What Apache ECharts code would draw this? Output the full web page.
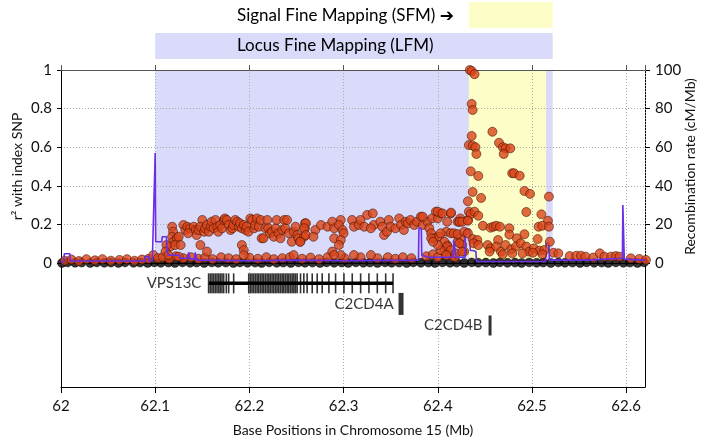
<!DOCTYPE html>
<html><head><meta charset="utf-8">
<script src="https://cdn.jsdelivr.net/npm/echarts@6/dist/echarts.min.js"></script>
<style>html,body{margin:0;padding:0;background:#fff}#c{width:704px;height:441px}</style>
</head><body><div id="c"></div>
<script>
// ---------------- DATA ----------------
const xRange = [62.0, 62.62];
const lfmRange = [62.1, 62.522];
const sfmRange = [62.433, 62.515];
const headerLabels = ['Signal Fine Mapping (SFM) \u2794', 'Locus Fine Mapping (LFM)'];

// r2 ~ 0 SNPs (black)
const nullSNPs = [
[62.001,0.000],[62.007,0.003],[62.015,0.001],[62.022,0.002],[62.031,0.000],[62.038,0.003],[62.046,0.001],[62.053,0.002],
[62.061,0.000],[62.068,0.003],[62.077,0.001],[62.084,0.002],[62.092,0.000],[62.099,0.003],[62.106,0.001],[62.114,0.002],
[62.121,0.000],[62.129,0.003],[62.137,0.001],[62.144,0.002],[62.152,0.000],[62.160,0.003],[62.167,0.001],[62.175,0.002],
[62.183,0.000],[62.190,0.003],[62.198,0.001],[62.206,0.002],[62.213,0.000],[62.221,0.003],[62.229,0.001],[62.236,0.002],
[62.244,0.000],[62.252,0.003],[62.259,0.001],[62.267,0.002],[62.275,0.000],[62.282,0.003],[62.290,0.001],[62.298,0.002],
[62.305,0.000],[62.313,0.003],[62.321,0.001],[62.328,0.002],[62.336,0.000],[62.344,0.003],[62.351,0.001],[62.359,0.002],
[62.367,0.000],[62.374,0.003],[62.382,0.001],[62.390,0.002],[62.397,0.000],[62.405,0.003],[62.413,0.001],[62.420,0.002],
[62.428,0.000],[62.436,0.003],[62.443,0.001],[62.451,0.002],[62.459,0.000],[62.466,0.003],[62.474,0.001],[62.482,0.002],
[62.489,0.000],[62.497,0.003],[62.505,0.001],[62.512,0.002],[62.520,0.000],[62.528,0.003],[62.535,0.001],[62.543,0.002],
[62.551,0.000],[62.558,0.003],[62.566,0.001],[62.574,0.002],[62.581,0.000],[62.589,0.003],[62.597,0.001],[62.604,0.002],
[62.612,0.000],[62.619,0.003]
];

// low-r2 SNPs along the region (red)
const lowSNPs = [
[62.004,0.012],[62.011,0.018],[62.019,0.010],[62.027,0.020],[62.036,0.014],[62.044,0.020],[62.053,0.012],[62.062,0.016],
[62.070,0.020],[62.078,0.012],[62.086,0.018],[62.093,0.022],[62.098,0.041],[62.103,0.025],[62.108,0.030],[62.115,0.022],
[62.122,0.035],[62.130,0.025],[62.138,0.030],[62.146,0.022],[62.153,0.028],[62.161,0.020],[62.170,0.030],[62.178,0.025],
[62.186,0.020],[62.200,0.028],[62.209,0.022],[62.218,0.030],[62.226,0.020],[62.235,0.025],[62.243,0.030],[62.256,0.022],
[62.265,0.028],[62.274,0.020],[62.283,0.030],[62.301,0.025],[62.318,0.030],[62.336,0.025],[62.347,0.030],[62.355,0.022],
[62.363,0.030],[62.372,0.025],[62.388,0.035],[62.395,0.045],[62.400,0.030],[62.412,0.040],[62.418,0.030]
];

// LD band SNPs, 62.11 - 62.43 (red)
const bandSNPs = [
[62.118,0.188],[62.119,0.162],[62.118,0.136],[62.119,0.110],[62.116,0.085],[62.123,0.128],[62.121,0.093],[62.125,0.136],
[62.127,0.093],[62.112,0.093],[62.111,0.059],[62.114,0.041],[62.130,0.197],[62.132,0.171],[62.134,0.188],[62.137,0.180],
[62.135,0.154],[62.141,0.188],[62.143,0.171],[62.144,0.145],[62.146,0.171],[62.150,0.223],[62.148,0.188],[62.152,0.162],
[62.153,0.180],[62.155,0.197],[62.157,0.162],[62.159,0.188],[62.160,0.214],[62.162,0.180],[62.164,0.223],[62.166,0.188],
[62.167,0.162],[62.169,0.197],[62.171,0.180],[62.173,0.223],[62.174,0.231],[62.176,0.223],[62.178,0.197],[62.180,0.171],
[62.182,0.180],[62.183,0.197],[62.185,0.223],[62.187,0.214],[62.189,0.188],[62.190,0.206],[62.192,0.180],[62.194,0.197],
[62.196,0.171],[62.197,0.188],[62.199,0.162],[62.201,0.231],[62.203,0.223],[62.205,0.180],[62.206,0.197],[62.208,0.231],
[62.210,0.188],[62.212,0.223],[62.213,0.128],[62.215,0.128],[62.217,0.180],[62.219,0.223],[62.220,0.180],[62.222,0.154],
[62.224,0.162],[62.226,0.136],[62.228,0.180],[62.229,0.223],[62.231,0.154],[62.233,0.128],[62.235,0.171],[62.237,0.223],
[62.238,0.180],[62.240,0.223],[62.242,0.154],[62.245,0.110],[62.247,0.162],[62.249,0.188],[62.251,0.145],[62.252,0.128],
[62.254,0.110],[62.259,0.206],[62.259,0.180],[62.258,0.136],[62.148,0.093],[62.155,0.059],[62.192,0.093],[62.194,0.067],
[62.194,0.041],[62.247,0.041],[62.125,0.033],
[62.260,0.206],[62.258,0.180],[62.254,0.110],[62.260,0.145],[62.270,0.171],[62.268,0.136],[62.276,0.197],[62.283,0.188],
[62.288,0.214],[62.290,0.180],[62.297,0.223],[62.295,0.197],[62.299,0.171],[62.300,0.154],[62.290,0.128],[62.297,0.119],
[62.295,0.093],[62.288,0.059],[62.297,0.041],[62.309,0.223],[62.311,0.188],[62.316,0.197],[62.318,0.223],[62.322,0.188],
[62.325,0.249],[62.331,0.257],[62.332,0.197],[62.329,0.180],[62.339,0.214],[62.341,0.188],[62.343,0.145],[62.346,0.162],
[62.348,0.223],[62.350,0.188],[62.355,0.180],[62.359,0.231],[62.361,0.197],[62.364,0.171],[62.366,0.214],[62.368,0.206],
[62.371,0.223],[62.375,0.197],[62.378,0.214],[62.382,0.240],[62.384,0.197],[62.389,0.214],[62.391,0.180],[62.393,0.154],
[62.394,0.231],[62.398,0.266],[62.400,0.231],[62.403,0.257],[62.414,0.257],[62.410,0.214],[62.421,0.214],[62.424,0.231],
[62.432,0.223],[62.433,0.266],[62.396,0.128],[62.401,0.136],[62.409,0.162],[62.414,0.154],[62.417,0.154],[62.421,0.110],
[62.424,0.128],[62.426,0.093],[62.428,0.059],[62.410,0.093],[62.407,0.059],[62.290,0.041],[62.311,0.041],[62.329,0.041],
[62.403,0.154],[62.407,0.110],[62.410,0.085],[62.414,0.067],[62.419,0.050],[62.423,0.102],[62.426,0.059],[62.403,0.067],
[62.400,0.093],[62.409,0.041],[62.384,0.240],[62.400,0.266],[62.405,0.257],[62.414,0.261],[62.423,0.214],[62.393,0.128],
[62.395,0.110]
];

// signal SNPs, 62.42 - 62.53 (red)
const sfmSNPs = [
[62.434,1.000],[62.436,0.995],[62.439,0.978],[62.436,0.824],[62.437,0.793],[62.436,0.658],[62.458,0.680],[62.433,0.611],
[62.437,0.608],[62.440,0.600],[62.441,0.565],[62.465,0.623],[62.469,0.600],[62.472,0.594],[62.477,0.594],[62.470,0.565],
[62.435,0.475],[62.443,0.451],[62.479,0.465],[62.481,0.465],[62.487,0.452],[62.437,0.368],[62.446,0.337],[62.432,0.320],
[62.492,0.373],[62.498,0.358],[62.518,0.344],[62.435,0.254],[62.439,0.266],[62.443,0.245],[62.494,0.264],[62.510,0.252],
[62.517,0.219],[62.423,0.214],[62.426,0.214],[62.432,0.219],[62.448,0.193],[62.456,0.183],[62.459,0.188],[62.462,0.193],
[62.466,0.188],[62.476,0.180],[62.492,0.149],[62.507,0.188],[62.511,0.193],[62.518,0.188],[62.476,0.147],[62.421,0.150],
[62.428,0.162],[62.432,0.154],[62.437,0.124],[62.442,0.119],[62.438,0.102],[62.443,0.093],[62.464,0.119],[62.484,0.128],
[62.506,0.124],[62.519,0.110],[62.453,0.093],[62.456,0.076],[62.462,0.085],[62.467,0.059],[62.472,0.093],[62.478,0.071],
[62.483,0.085],[62.488,0.102],[62.494,0.085],[62.497,0.059],[62.502,0.076],[62.508,0.064],[62.513,0.067],[62.455,0.059],
[62.469,0.045],[62.479,0.050],[62.490,0.050],[62.501,0.053],[62.511,0.045]
];

// SNPs beyond the signal (red)
const tailSNPs = [
[62.523,0.053],[62.528,0.050],[62.540,0.036],[62.547,0.038],[62.552,0.038],[62.557,0.033],[62.565,0.028],[62.572,0.050],
[62.577,0.033],[62.584,0.033],[62.589,0.036],[62.593,0.033],[62.605,0.024],[62.614,0.021],[62.621,0.016]
];

// recombination rate (cM/Mb)
const recombRate = [
[62.000,0.5],[62.003,0.5],[62.0035,4.8],[62.0095,4.8],[62.010,1.0],[62.089,1.0],[62.0895,3.3],[62.093,3.3],[62.0935,1.0],
[62.097,1.0],[62.0975,11],[62.0995,11],[62.100,57],[62.1005,11],[62.107,11],[62.1075,13.6],[62.112,13.6],[62.1125,6.5],
[62.114,4],[62.126,4],[62.1265,2.5],[62.135,2.5],[62.1355,5.5],[62.137,2],[62.142,2],[62.1425,5.5],[62.144,1.5],[62.200,1.2],
[62.250,1.5],[62.300,1.2],[62.3795,1.5],[62.380,18],[62.3825,18],[62.383,4],[62.390,3],[62.4165,3],[62.417,11.5],
[62.419,11.5],[62.4195,3],[62.429,3],[62.4295,17.5],[62.434,17.5],[62.4345,6.5],[62.437,6.5],[62.4375,5.9],[62.4405,5.9],
[62.441,0.8],[62.5145,0.8],[62.515,10.5],[62.518,10.5],[62.5185,1.5],[62.560,1.5],[62.5605,2.5],[62.596,2.5],[62.5965,30],
[62.5975,30],[62.598,2],[62.620,1.5]
];

// genes
const geneNames = ['VPS13C', 'C2CD4A', 'C2CD4B'];
const geneStart = [62.157, 62.361, 62.4555];
const geneEnd = [62.3525, 62.361, 62.4555];
const exonsVPS13C = [
62.1567,62.1585,62.1603,62.162,62.1638,62.1656,62.1674,62.1691,62.1709,62.1727,62.1755,62.178,62.1833,
62.1993,62.2011,62.2028,62.2046,62.2064,62.2082,62.2099,62.2117,62.2135,62.2152,62.217,62.2188,62.2206,62.2223,
62.2241,62.2259,62.2277,62.2294,62.2312,62.233,62.2348,62.2365,62.2383,62.2401,62.2418,62.2436,62.2454,62.2472,
62.2489,62.2507,62.2543,62.2578,62.2613,62.2667,62.272,62.2773,62.2844,62.2915,62.3004,62.3092,62.3181,62.3269,
62.3358,62.3447,62.3525
];

// ---------------- CHART ----------------
const FONT = 'Lato, "DejaVu Sans", sans-serif';
const TXT = '#111';
const geneRow = [0.86, 1.88, 2.95];
const L = 61, W = 584;

const chart = echarts.init(document.getElementById('c'), null, {renderer: 'canvas'});
const redStyle = {color: '#d9451a', borderColor: '#3d1000', borderWidth: 0.7};
const gridLine = {show: true, lineStyle: {color: '#aaa', type: [1, 2], width: 1}};

chart.setOption({
  animation: false,
  backgroundColor: '#fff',
  textStyle: {fontFamily: FONT},
  grid: [
    {left: L, width: W, top: 70, height: 193, containLabel: false, outerBoundsMode: 'none'},
    {left: L, width: W, top: 266, height: 121, containLabel: false, outerBoundsMode: 'none'},
    {left: L, width: W, top: 0, height: 60, containLabel: false, outerBoundsMode: 'none'}
  ],
  xAxis: [
    {gridIndex: 0, type: 'value', min: xRange[0], max: xRange[1], interval: 0.1, position: 'bottom', z: 2,
     axisLine: {show: true, lineStyle: {color: '#000', width: 1}}, axisTick: {show: false}, axisLabel: {show: false},
     splitLine: gridLine},
    {gridIndex: 0, type: 'value', min: xRange[0], max: xRange[1], interval: 0.1, position: 'top', z: 3,
     axisLine: {show: true, onZero: false, lineStyle: {color: '#555', width: 1.2}},
     axisTick: {show: true, inside: false, length: 5, lineStyle: {color: '#555'}}, axisLabel: {show: false}, splitLine: {show: false}},
    {gridIndex: 1, type: 'value', min: xRange[0], max: xRange[1], interval: 0.1, position: 'bottom',
     axisLine: {show: true, onZero: false, lineStyle: {color: '#000', width: 1}},
     axisTick: {show: true, inside: false, length: 6, lineStyle: {color: '#000'}},
     axisLabel: {show: true, color: TXT, fontSize: 15, margin: 12, fontFamily: FONT, formatter: v => String(+v.toFixed(1))},
     splitLine: gridLine,
     name: 'Base Positions in Chromosome 15 (Mb)', nameLocation: 'middle', nameGap: 36, nameMoveOverlap: false,
     nameTextStyle: {color: TXT, fontSize: 14, fontFamily: FONT}},
    {gridIndex: 2, type: 'value', min: xRange[0], max: xRange[1], show: false}
  ],
  yAxis: [
    {gridIndex: 0, type: 'value', min: 0, max: 1, interval: 0.2, position: 'left', z: 2,
     axisLine: {show: true, onZero: false, lineStyle: {color: '#000'}},
     axisTick: {show: true, inside: false, length: 4, lineStyle: {color: '#000'}},
     axisLabel: {color: TXT, fontSize: 15, margin: 9, fontFamily: FONT},
     splitLine: gridLine,
     name: 'r\u00b2 with index SNP', nameLocation: 'middle', nameGap: 37, nameRotate: 90, nameMoveOverlap: false,
     nameTextStyle: {color: TXT, fontSize: 14, fontFamily: FONT}},
    {gridIndex: 0, type: 'value', min: 0, max: 100, interval: 20, position: 'right',
     axisLine: {show: true, onZero: false, lineStyle: {color: '#000'}},
     axisTick: {show: true, inside: false, length: 5, lineStyle: {color: '#000'}},
     axisLabel: {color: TXT, fontSize: 15, margin: 10, fontFamily: FONT},
     splitLine: {show: false},
     name: 'Recombination rate (cM/Mb)', nameLocation: 'middle', nameGap: 38, nameRotate: 90, nameMoveOverlap: false,
     nameTextStyle: {color: TXT, fontSize: 14, fontFamily: FONT}},
    {gridIndex: 1, type: 'value', min: 0, max: 6, inverse: true, position: 'left',
     axisLine: {show: true, onZero: false, lineStyle: {color: '#000'}}, axisTick: {show: false},
     axisLabel: {show: false}, splitLine: {show: false}},
    {gridIndex: 1, type: 'value', min: 0, max: 6, inverse: true, position: 'right',
     axisLine: {show: true, onZero: false, lineStyle: {color: '#000'}}, axisTick: {show: false},
     axisLabel: {show: false}, splitLine: {show: false}},
    {gridIndex: 2, type: 'value', min: 0, max: 60, inverse: true, show: false}
  ],
  graphic: [
    {type: 'text', left: 237, top: 7, z: 100, style: {text: headerLabels[0], font: '17px ' + FONT, fill: '#000'}},
    {type: 'text', left: 237, top: 37, z: 100, style: {text: headerLabels[1], font: '17px ' + FONT, fill: '#000'}}
  ],
  series: [
    {type: 'scatter', xAxisIndex: 0, yAxisIndex: 0, data: [], z: -1, silent: true,
     markArea: {silent: true, z: -1, data: [
       [{xAxis: lfmRange[0], itemStyle: {color: '#dadafb'}}, {xAxis: lfmRange[1]}],
       [{xAxis: sfmRange[0], itemStyle: {color: '#fdfdc8'}}, {xAxis: sfmRange[1]}]
     ]}},
    {type: 'scatter', xAxisIndex: 3, yAxisIndex: 4, data: [], silent: true, z: -1,
     markArea: {silent: true, z: -1, data: [
       [{xAxis: lfmRange[0], yAxis: 33, itemStyle: {color: '#dadafb'}}, {xAxis: lfmRange[1], yAxis: 59}],
       [{xAxis: sfmRange[0], yAxis: 2, itemStyle: {color: '#fdfdc8'}}, {xAxis: lfmRange[1], yAxis: 28}]
     ]}},
    {type: 'scatter', xAxisIndex: 0, yAxisIndex: 0, data: nullSNPs, symbolSize: 9, clip: false, z: 3,
     itemStyle: {color: '#000', borderColor: '#000', borderWidth: 0.5}},
    {type: 'scatter', xAxisIndex: 0, yAxisIndex: 0, data: lowSNPs, symbolSize: 9, clip: false, z: 3, itemStyle: redStyle},
    {type: 'scatter', xAxisIndex: 0, yAxisIndex: 0, data: bandSNPs, symbolSize: 9, clip: false, z: 3, itemStyle: redStyle},
    {type: 'scatter', xAxisIndex: 0, yAxisIndex: 0, data: tailSNPs, symbolSize: 9, clip: false, z: 3, itemStyle: redStyle},
    {type: 'line', xAxisIndex: 0, yAxisIndex: 1, data: recombRate, showSymbol: false, symbol: 'none', z: 4,
     lineStyle: {color: '#6a2ee6', width: 1.6}, silent: true},
    {type: 'scatter', xAxisIndex: 0, yAxisIndex: 0, data: sfmSNPs, symbolSize: 9, clip: false, z: 5, itemStyle: redStyle},
    // genes
    {type: 'line', xAxisIndex: 2, yAxisIndex: 2, data: [[geneStart[0], geneRow[0]], [geneEnd[0], geneRow[0]]],
     symbol: 'none', lineStyle: {color: '#000', width: 3.5}, silent: true},
    {type: 'scatter', xAxisIndex: 2, yAxisIndex: 2, data: exonsVPS13C.map(x => [x, geneRow[0]]),
     symbol: 'rect', symbolSize: [1.6, 20], itemStyle: {color: '#000'}, silent: true},
    {type: 'scatter', xAxisIndex: 2, yAxisIndex: 2, data: [[geneStart[1], geneRow[1]]],
     symbol: 'rect', symbolSize: [5, 22], itemStyle: {color: '#000'}, silent: true},
    {type: 'scatter', xAxisIndex: 2, yAxisIndex: 2, data: [[geneStart[2], geneRow[2]]],
     symbol: 'rect', symbolSize: [3, 20], itemStyle: {color: '#000'}, silent: true},
    {type: 'scatter', xAxisIndex: 2, yAxisIndex: 2, symbolSize: 1, itemStyle: {color: 'rgba(0,0,0,0)'}, silent: true,
     data: geneNames.map((n, i) => [geneStart[i], geneRow[i]]),
     label: {show: true, position: 'left', distance: 7, color: '#000', fontSize: 15, fontFamily: FONT,
       formatter: p => geneNames[p.dataIndex]}}
  ]
});
</script></body></html>
